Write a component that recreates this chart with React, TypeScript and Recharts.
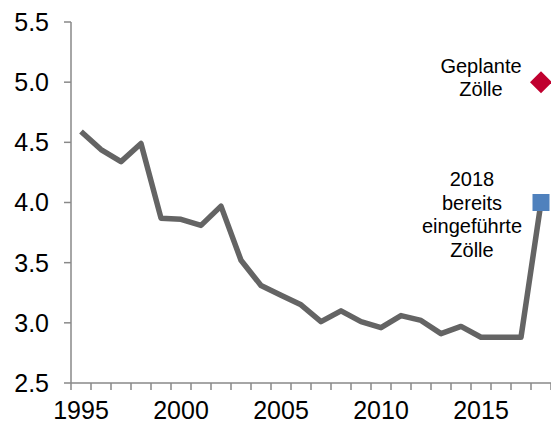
import React from "react"
import { ComposedChart, Line, Scatter, XAxis, YAxis } from "recharts"

const years = [
  1995, 1996, 1997, 1998, 1999, 2000, 2001, 2002, 2003, 2004, 2005, 2006,
  2007, 2008, 2009, 2010, 2011, 2012, 2013, 2014, 2015, 2016, 2017, 2018,
]
const tariff = [
  4.59, 4.44, 4.34, 4.49, 3.87, 3.86, 3.81, 3.97, 3.52, 3.31, 3.23, 3.15,
  3.01, 3.1, 3.01, 2.96, 3.06, 3.02, 2.91, 2.97, 2.88, 2.88, 2.88, 4.0,
]
const plannedPoint = [{ year: 2018, value: 5.0 }]
const introducedPoint = [{ year: 2018, value: 4.0 }]
const plannedLabel = ["Geplante", "Zölle"]
const introducedLabel = ["2018", "bereits", "eingeführte", "Zölle"]
const yTicks = [2.5, 3.0, 3.5, 4.0, 4.5, 5.0, 5.5]
const yearLabels = [1995, 2000, 2005, 2010, 2015]

const data = years.map((year, i) => ({ year, tariff: tariff[i] }))
const boundaries = [...years.map((y) => y - 0.5), years[years.length - 1] + 0.5]

const font = "'Liberation Sans', Arial, sans-serif"
const axisColor = "#898989"

function PlannedShape(props: any) {
  const { cx, cy } = props
  const r = 11
  return (
    <g>
      <path
        d={`M${cx},${cy - r} L${cx + r},${cy} L${cx},${cy + r} L${cx - r},${cy} Z`}
        fill="#C0002F"
      />
      <text x={cx - 60} y={cy - 9.5} textAnchor="middle" fontSize={20} fontFamily={font} fill="#000">
        {plannedLabel[0]}
      </text>
      <text x={cx - 60} y={cy + 13.5} textAnchor="middle" fontSize={20} fontFamily={font} fill="#000">
        {plannedLabel[1]}
      </text>
    </g>
  )
}

function IntroducedShape(props: any) {
  const { cx, cy } = props
  const s = 17
  return (
    <g>
      <rect x={cx - s / 2} y={cy - s / 2} width={s} height={s} fill="#4F81BD" />
      {introducedLabel.map((t, i) => (
        <text
          key={t}
          x={cx - 69}
          y={cy - 16.5 + i * 23.5}
          textAnchor="middle"
          fontSize={20}
          fontFamily={font}
          fill="#000"
        >
          {t}
        </text>
      ))}
    </g>
  )
}

export default function App() {
  return (
    <div style={{ position: "fixed", left: 0, top: 0, width: 551, height: 428, background: "#fff" }}>
      <ComposedChart
        width={551}
        height={428}
        data={data}
        margin={{ top: 22, right: 0, bottom: 0, left: 0 }}
        style={{ display: "block" }}
      >
        <XAxis
          dataKey="year"
          type="number"
          domain={[1994.5, 2018.5]}
          ticks={boundaries}
          tickFormatter={() => ""}
          tickSize={7}
          height={8}
          axisLine={{ stroke: axisColor, strokeWidth: 1.5 }}
          tickLine={{ stroke: axisColor, strokeWidth: 1.5 }}
        />
        <XAxis
          xAxisId="labels"
          dataKey="year"
          type="number"
          domain={[1994.5, 2018.5]}
          ticks={yearLabels}
          axisLine={false}
          tickLine={false}
          tickSize={0}
          tickMargin={10}
          height={37}
          tick={{ fontSize: 25, fill: "#000", fontFamily: font }}
          interval={0}
        />
        <YAxis
          domain={[2.5, 5.5]}
          ticks={yTicks}
          tickFormatter={(v: number) => v.toFixed(1)}
          width={71}
          tickSize={7}
          tickMargin={15}
          interval={0}
          axisLine={{ stroke: axisColor, strokeWidth: 1.5 }}
          tickLine={{ stroke: axisColor, strokeWidth: 1.5 }}
          tick={{ fontSize: 25, fill: "#000", fontFamily: font }}
        />
        <Line
          dataKey="tariff"
          stroke="#646464"
          strokeWidth={5.5}
          strokeLinejoin="round"
          dot={false}
          isAnimationActive={false}
        />
        <Scatter
          data={plannedPoint}
          dataKey="value"
          shape={PlannedShape}
          isAnimationActive={false}
        />
        <Scatter
          data={introducedPoint}
          dataKey="value"
          shape={IntroducedShape}
          isAnimationActive={false}
        />
      </ComposedChart>
    </div>
  )
}
